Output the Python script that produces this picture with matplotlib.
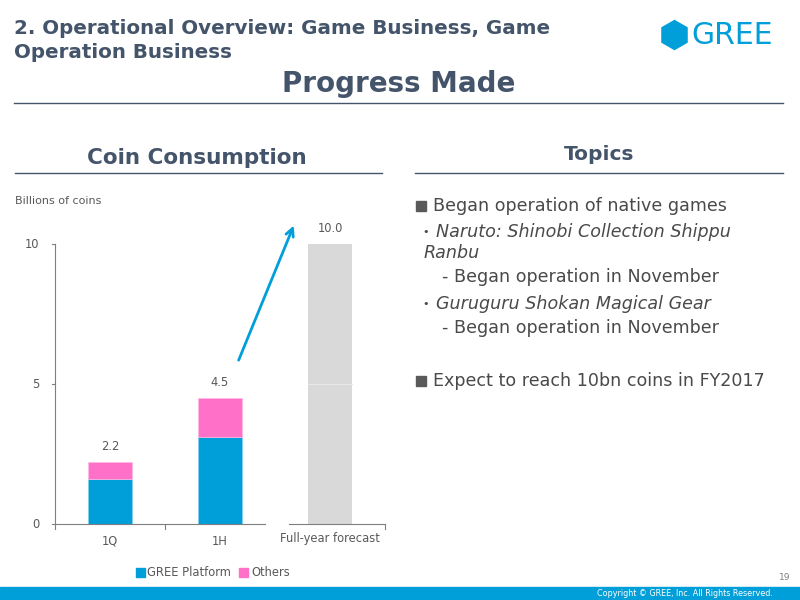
import matplotlib
matplotlib.use("Agg")
import matplotlib.pyplot as plt
from matplotlib.patches import Rectangle, RegularPolygon

# ---- data ----
categories = ["1Q", "1H", "Full-year forecast"]
gree_platform = [1.6, 3.1]
others = [0.6, 1.4]
forecast = 10.0
totals = [2.2, 4.5, 10.0]
total_labels = ["2.2", "4.5", "10.0"]
yticks = [0, 5, 10]
series_names = ["GREE Platform", "Others"]

BLUE = "#009FD9"
PINK = "#FF71C8"
GREY_BAR = "#D9D9D9"
SLATE = "#44546A"
TXT = "#595959"
DARK = "#4A4A4A"

W, H = 800, 600
fig = plt.figure(figsize=(8, 6), dpi=100)
fig.patch.set_facecolor("white")


def P(x, y):
    return x / W, 1 - y / H


def ftext(x, y, s, **kw):
    fig.text(*P(x, y), s, **kw)


def hline(x0, x1, y, color=SLATE, lw=1.0):
    fig.add_artist(plt.Line2D([x0 / W, x1 / W], [1 - y / H, 1 - y / H],
                              color=color, lw=lw, transform=fig.transFigure))


# ---- header ----
ftext(14, 28, "2. Operational Overview: Game Business, Game", fontsize=14.3,
      fontweight="bold", color=SLATE, va="center", ha="left")
ftext(14, 52, "Operation Business", fontsize=14.3,
      fontweight="bold", color=SLATE, va="center", ha="left")
ftext(399, 84, "Progress Made", fontsize=20, fontweight="bold", color=SLATE,
      va="center", ha="center")
hline(14, 783, 103, color="#44546A", lw=1.0)

# logo
logo_ax = fig.add_axes([655 / W, 1 - 52 / H, 40 / W, 34 / H])
logo_ax.set_xlim(0, 40)
logo_ax.set_ylim(0, 34)
logo_ax.axis("off")
logo_ax.add_patch(RegularPolygon((19.5, 17), numVertices=6, radius=14.5,
                                 orientation=0, color=BLUE))
ftext(691, 36, "GREE", fontsize=21.5, color=BLUE, va="center", ha="left")

# section headings
ftext(197, 158, "Coin Consumption", fontsize=15.5, fontweight="bold",
      color=SLATE, va="center", ha="center")
hline(15, 382, 173)
ftext(599, 155, "Topics", fontsize=14.5, fontweight="bold",
      color=SLATE, va="center", ha="center")
hline(415, 783, 173)

# ---- chart ----
ax = fig.add_axes([55 / W, 1 - 524 / H, 330 / W, 280 / H])
ax.set_xlim(0, 3)
ax.set_ylim(0, 10)
for s in ax.spines.values():
    s.set_visible(False)
ax.set_xticks([])
ax.set_yticks([])

xs = [0.5, 1.5]
bw = 0.4
ax.bar(xs, gree_platform, width=bw, color=BLUE, edgecolor="#7FD0EE", lw=0.5)
ax.bar(xs, others, width=bw, bottom=gree_platform, color=PINK,
       edgecolor="#FFB8E4", lw=0.5)
ax.bar([2.5], [forecast], width=bw, color=GREY_BAR, lw=0)
ax.plot([2.3, 2.7], [5, 5], color="#E8E8E8", lw=0.8)

for x, t, lab in zip([0.5, 1.5, 2.5], totals, total_labels):
    ax.annotate(lab, (x, t), xytext=(0, 11.5), textcoords="offset points",
                ha="center", va="center", fontsize=8.3, color=TXT)

# axes lines
axcol = "#7F7F7F"
ax.plot([0, 0], [0, 10], color=axcol, lw=0.8, clip_on=False)
for yv in yticks:
    ax.plot([-0.03, 0], [yv, yv], color=axcol, lw=0.8, clip_on=False)
    ax.annotate(str(yv), (0, yv), xytext=(-11.5, 0), textcoords="offset points",
                ha="right", va="center", fontsize=8.3, color=TXT)
ax.plot([0, 1.91], [0, 0], color=axcol, lw=0.8, clip_on=False)
ax.plot([2.13, 3.0], [0, 0], color=axcol, lw=0.8, clip_on=False)
for xv in [0, 1, 3]:
    ax.plot([xv, xv], [0, -0.18], color=axcol, lw=0.8, clip_on=False)

for x, c in zip([0.5, 1.5], categories[:2]):
    ax.annotate(c, (x, 0), xytext=(0, -12.5), textcoords="offset points",
                ha="center", va="center", fontsize=8.3, color=TXT)
ax.annotate(categories[2], (2.5, 0), xytext=(0, -10.5),
            textcoords="offset points", ha="center", va="center",
            fontsize=8.3, color=TXT)

# growth arrow
ax.annotate("", xy=(2.18, 10.75), xytext=(1.66, 5.76),
            arrowprops=dict(arrowstyle="->", color=BLUE, lw=2,
                            mutation_scale=14),
            annotation_clip=False)

ftext(15, 201, "Billions of coins", fontsize=8, color=TXT, va="center",
      ha="left")

# legend
fig.add_artist(Rectangle(P(136, 577), 9 / W, 9 / H, color=BLUE,
                         transform=fig.transFigure))
ftext(147, 572, series_names[0], fontsize=8.3, color=TXT, va="center", ha="left")
fig.add_artist(Rectangle(P(239, 577), 9 / W, 9 / H, color=PINK,
                         transform=fig.transFigure))
ftext(251, 572, series_names[1], fontsize=8.3, color=TXT, va="center", ha="left")

# ---- topics ----
fs = 12.6
sq = "#595959"
fig.add_artist(Rectangle(P(416, 211), 10 / W, 10 / H, color=sq,
                         transform=fig.transFigure))
ftext(433, 206, "Began operation of native games", fontsize=fs, color=DARK,
      va="center", ha="left")
ftext(422, 232, "•", fontsize=8, color=DARK, va="center", ha="left")
ftext(436, 232, "Naruto: Shinobi Collection Shippu", fontsize=fs, color=DARK,
      va="center", ha="left", style="italic")
ftext(424, 253, "Ranbu", fontsize=fs, color=DARK, va="center", ha="left",
      style="italic")
ftext(442, 277, "- Began operation in November", fontsize=fs, color=DARK,
      va="center", ha="left")
ftext(422, 304, "•", fontsize=8, color=DARK, va="center", ha="left")
ftext(436, 304, "Guruguru Shokan Magical Gear", fontsize=fs, color=DARK,
      va="center", ha="left", style="italic")
ftext(442, 328, "- Began operation in November", fontsize=fs, color=DARK,
      va="center", ha="left")
fig.add_artist(Rectangle(P(416, 386), 10 / W, 10 / H, color=sq,
                         transform=fig.transFigure))
ftext(433, 381, "Expect to reach 10bn coins in FY2017", fontsize=fs,
      color=DARK, va="center", ha="left")

# ---- footer ----
fig.add_artist(Rectangle((0, 0), 1, 13 / H, color=BLUE,
                         transform=fig.transFigure))
ftext(685, 594, "Copyright © GREE, Inc. All Rights Reserved.", fontsize=5.8,
      color="white", va="center", ha="center")
ftext(785, 578, "19", fontsize=6.5, color="#7F7F7F", va="center", ha="center")

fig.savefig("out.png", dpi=100)
